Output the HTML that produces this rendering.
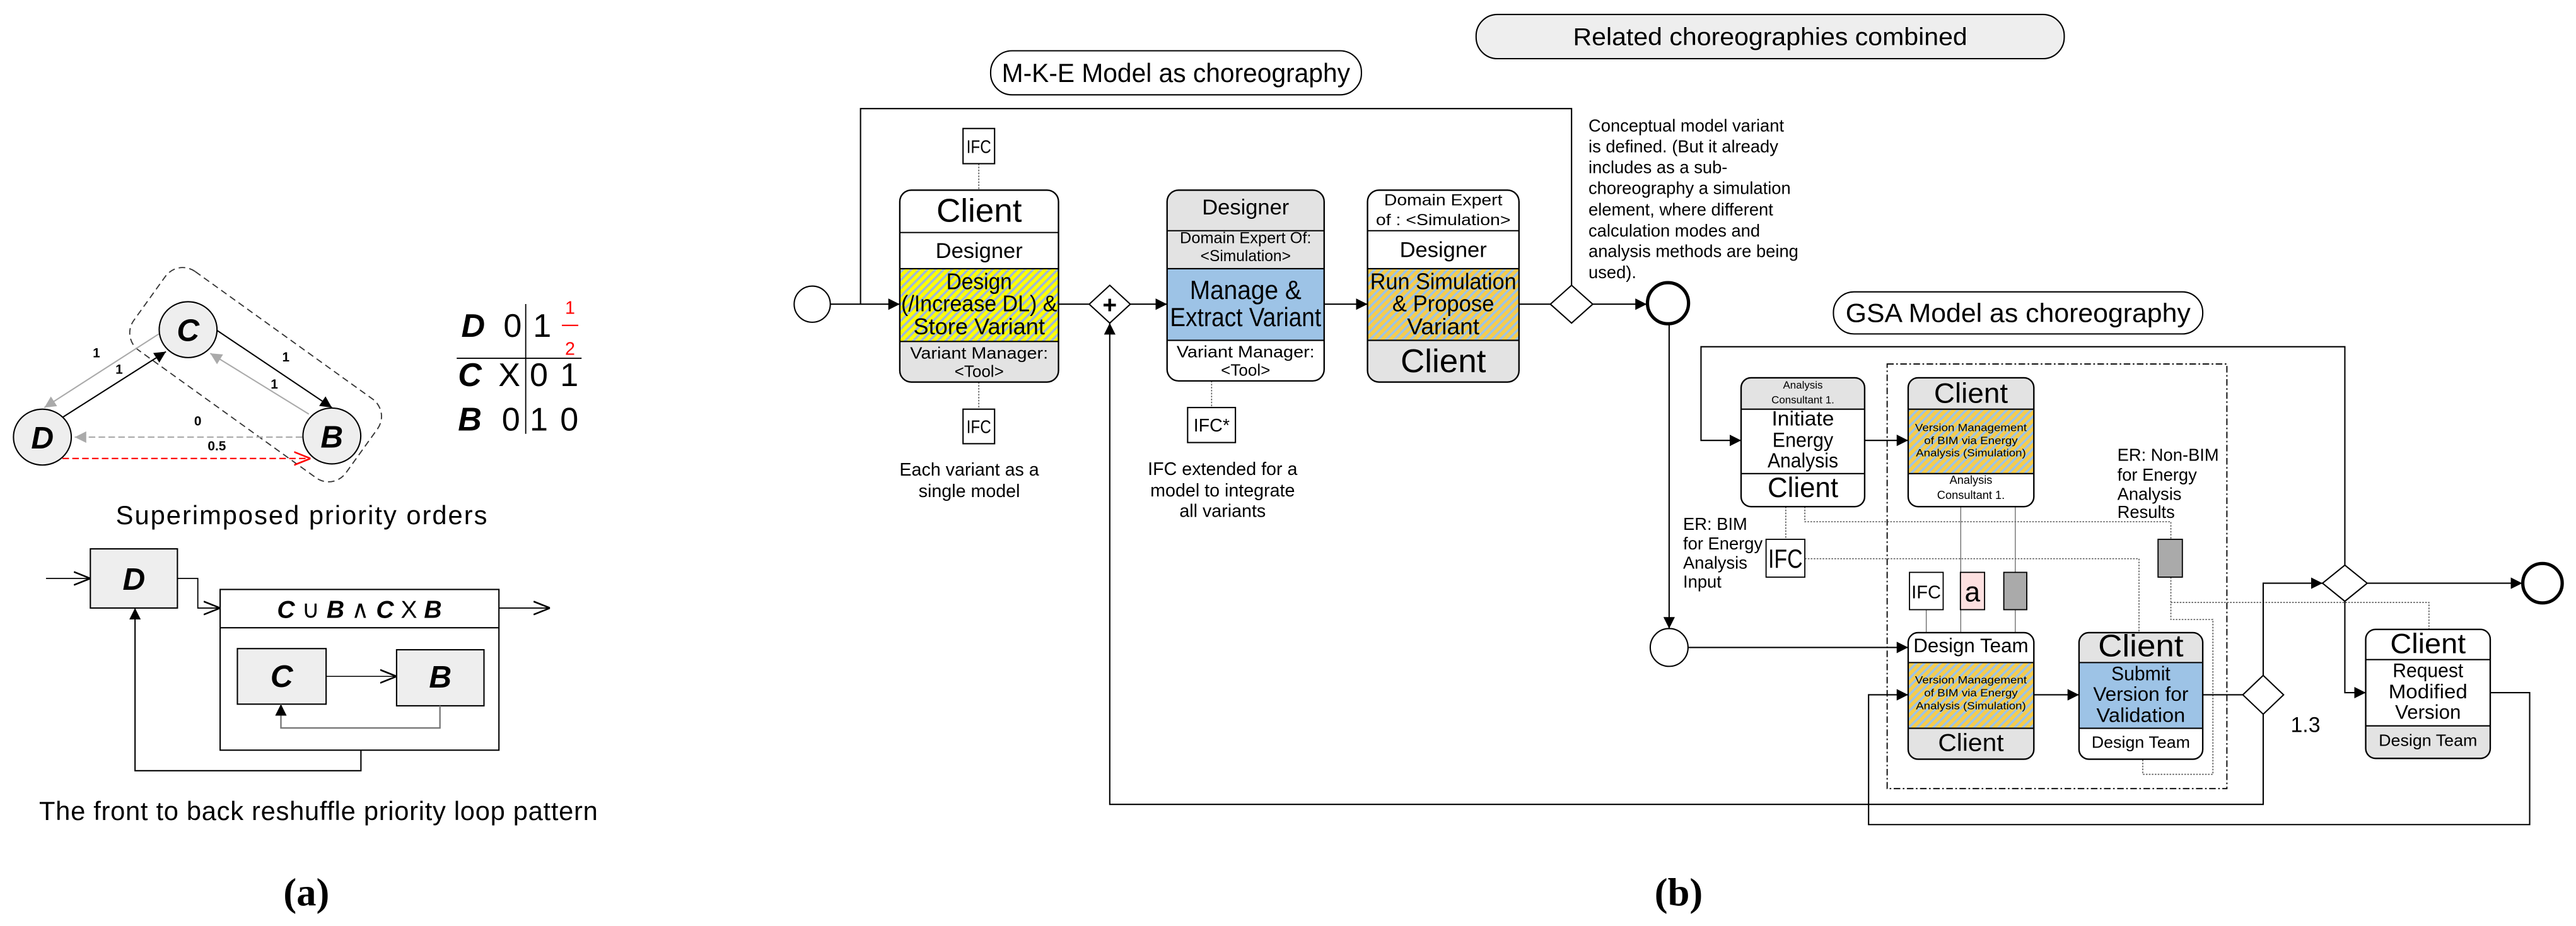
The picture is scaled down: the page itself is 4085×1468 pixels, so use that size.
<!DOCTYPE html>
<html><head><meta charset="utf-8"><style>
html,body{margin:0;padding:0;background:#fff;}
svg{display:block;}
text{font-family:"Liberation Sans Narrow","Liberation Sans",sans-serif;fill:#000;}
.s{font-family:"Liberation Sans",sans-serif;}
.bi{font-family:"Liberation Sans",sans-serif;font-weight:bold;font-style:italic;}
.ln{stroke:#000;stroke-width:0.8;fill:none;}
.dt{stroke:#555;stroke-width:0.6;fill:none;stroke-dasharray:1,0.8;}
</style></head><body>
<svg width="4085" height="1468" viewBox="0 0 1568 563.5" preserveAspectRatio="none" xmlns="http://www.w3.org/2000/svg">
<defs>
<marker id="af" viewBox="0 0 10 10" refX="10" refY="5" markerWidth="7" markerHeight="7" markerUnits="userSpaceOnUse" orient="auto"><path d="M0,0L10,5L0,10z" fill="#000"/></marker>
<marker id="ag" viewBox="0 0 10 10" refX="10" refY="5" markerWidth="7" markerHeight="7" markerUnits="userSpaceOnUse" orient="auto"><path d="M0,0L10,5L0,10z" fill="#aaa"/></marker>
<marker id="ao" viewBox="0 0 10 10" refX="10" refY="5" markerWidth="10" markerHeight="10" markerUnits="userSpaceOnUse" orient="auto"><path d="M0,1L10,5L0,9" fill="none" stroke="#000" stroke-width="1"/></marker>
<marker id="ar" viewBox="0 0 10 10" refX="10" refY="5" markerWidth="10" markerHeight="10" markerUnits="userSpaceOnUse" orient="auto"><path d="M0,1L10,5L0,9" fill="none" stroke="#f00" stroke-width="1"/></marker>
<pattern id="h1" patternUnits="userSpaceOnUse" width="3.5" height="3.5" patternTransform="rotate(45)"><rect width="3.5" height="3.5" fill="#ffff00"/><rect width="1.4" height="3.5" fill="#9fb8d8"/></pattern>
<pattern id="h2" patternUnits="userSpaceOnUse" width="3.5" height="3.5" patternTransform="rotate(45)"><rect width="3.5" height="3.5" fill="#f7cc4a"/><rect width="1.4" height="3.5" fill="#9dc3e6"/></pattern>
<clipPath id="c1"><rect x="547.7" y="115.7" width="96.6" height="116.8" rx="7"/></clipPath>
<clipPath id="c2"><rect x="710.4" y="115.7" width="95.6" height="116.1" rx="7"/></clipPath>
<clipPath id="c3"><rect x="832.4" y="115.7" width="92.2" height="116.8" rx="7"/></clipPath>
<clipPath id="cA"><rect x="1059.8" y="229.9" width="75.2" height="78.4" rx="6"/></clipPath>
<clipPath id="cB"><rect x="1161.5" y="229.9" width="76.5" height="78.4" rx="6"/></clipPath>
<clipPath id="cC"><rect x="1161.5" y="385" width="76.5" height="77" rx="6"/></clipPath>
<clipPath id="cD"><rect x="1265.5" y="385" width="75.3" height="77" rx="6"/></clipPath>
<clipPath id="cR"><rect x="1440" y="383" width="75.8" height="78.5" rx="6"/></clipPath>
</defs>

<!-- ============ PART (a) ============ -->
<g transform="translate(155.6,228) rotate(35.7)">
<rect x="-79.5" y="-29.5" width="159" height="59" rx="13" fill="none" stroke="#333" stroke-width="0.7" stroke-dasharray="4,2.5"/>
</g>
<line x1="132" y1="201" x2="202" y2="248" stroke="#000" stroke-width="0.8" marker-end="url(#af)"/>
<line x1="188" y1="252" x2="128" y2="215" stroke="#aaa" stroke-width="0.8" marker-end="url(#ag)"/>
<line x1="97" y1="203" x2="27" y2="248" stroke="#aaa" stroke-width="0.8" marker-end="url(#ag)"/>
<line x1="38" y1="254" x2="101" y2="214" stroke="#000" stroke-width="0.8" marker-end="url(#af)"/>
<line x1="184" y1="266" x2="45.5" y2="266" stroke="#aaa" stroke-width="0.8" stroke-dasharray="4,2" marker-end="url(#ag)"/>
<line x1="38" y1="279" x2="189" y2="279" stroke="#f00" stroke-width="0.8" stroke-dasharray="4,2" marker-end="url(#ar)"/>
<ellipse cx="114.5" cy="200.6" rx="17.6" ry="17" fill="#eee" stroke="#000" stroke-width="0.8"/>
<ellipse cx="25.8" cy="266" rx="17.6" ry="17" fill="#eee" stroke="#000" stroke-width="0.8"/>
<ellipse cx="202" cy="265.3" rx="17.6" ry="17" fill="#eee" stroke="#000" stroke-width="0.8"/>
<text class="bi" x="114.5" y="207.5" font-size="19" text-anchor="middle">C</text>
<text class="bi" x="25.8" y="273" font-size="19" text-anchor="middle">D</text>
<text class="bi" x="202" y="272.3" font-size="19" text-anchor="middle">B</text>
<g font-size="8" font-weight="bold">
<text x="58.7" y="217.5" text-anchor="middle" class="s">1</text>
<text x="72.5" y="227.5" text-anchor="middle" class="s">1</text>
<text x="174" y="220" text-anchor="middle" class="s">1</text>
<text x="167" y="236.5" text-anchor="middle" class="s">1</text>
<text x="120.4" y="259" text-anchor="middle" class="s">0</text>
<text x="132" y="274" text-anchor="middle" class="s">0.5</text>
</g>
<!-- matrix -->
<line x1="320" y1="185" x2="320" y2="264" stroke="#000" stroke-width="0.7"/>
<line x1="278" y1="218" x2="354" y2="218" stroke="#000" stroke-width="0.7"/>
<g font-size="20">
<text class="bi" x="288" y="205" text-anchor="middle">D</text>
<text class="s" x="312" y="205" text-anchor="middle">0</text>
<text class="s" x="330" y="205" text-anchor="middle">1</text>
<text class="bi" x="286" y="235" text-anchor="middle">C</text>
<text class="s" x="310" y="235" text-anchor="middle">X</text>
<text class="s" x="328" y="235" text-anchor="middle">0</text>
<text class="s" x="346.5" y="235" text-anchor="middle">1</text>
<text class="bi" x="286" y="262" text-anchor="middle">B</text>
<text class="s" x="311" y="262" text-anchor="middle">0</text>
<text class="s" x="328" y="262" text-anchor="middle">1</text>
<text class="s" x="346.5" y="262" text-anchor="middle">0</text>
</g>
<text class="s" x="347" y="191" font-size="11" text-anchor="middle" style="fill:#f00">1</text>
<line x1="342" y1="198" x2="352" y2="198" stroke="#f00" stroke-width="0.8"/>
<text class="s" x="347" y="216" font-size="11" text-anchor="middle" style="fill:#f00">2</text>
<text class="s" x="183.5" y="319" font-size="16" text-anchor="middle" textLength="226">Superimposed priority orders</text>
<!-- loop pattern -->
<line x1="28" y1="352" x2="55" y2="352" stroke="#000" stroke-width="0.7" marker-end="url(#ao)"/>
<rect x="55" y="334" width="53" height="36" fill="#eee" stroke="#000" stroke-width="0.8"/>
<text class="bi" x="81.5" y="359" font-size="19" text-anchor="middle">D</text>
<polyline points="108,352 120.4,352 120.4,370 134,370" fill="none" stroke="#000" stroke-width="0.7" marker-end="url(#ao)"/>
<rect x="134" y="358.7" width="169.7" height="97.8" fill="#fff" stroke="#000" stroke-width="0.8"/>
<line x1="134" y1="382" x2="303.7" y2="382" stroke="#000" stroke-width="0.8"/>
<text x="218.8" y="376" font-size="15" text-anchor="middle" class="s"><tspan class="bi">C</tspan> ∪ <tspan class="bi">B</tspan> ∧ <tspan class="bi">C</tspan> X <tspan class="bi">B</tspan></text>
<line x1="303.7" y1="370" x2="334.8" y2="370" stroke="#000" stroke-width="0.7" marker-end="url(#ao)"/>
<rect x="144.5" y="394.7" width="54" height="33.8" fill="#eee" stroke="#000" stroke-width="0.8"/>
<rect x="241.4" y="395.4" width="53.2" height="34.1" fill="#eee" stroke="#000" stroke-width="0.8"/>
<text class="bi" x="171.5" y="418" font-size="19" text-anchor="middle">C</text>
<text class="bi" x="268" y="418.5" font-size="19" text-anchor="middle">B</text>
<line x1="198.5" y1="411.6" x2="241.4" y2="411.6" stroke="#000" stroke-width="0.6" marker-end="url(#ao)"/>
<polyline points="267.8,429.5 267.8,443 171,443 171,428.5" fill="none" stroke="#777" stroke-width="0.9" marker-end="url(#af)"/>
<polyline points="219.7,456.5 219.7,469 82.2,469 82.2,370" fill="none" stroke="#000" stroke-width="0.8" marker-end="url(#af)"/>
<text class="s" x="193.8" y="499" font-size="16" text-anchor="middle" textLength="340">The front to back reshuffle priority loop pattern</text>
<text x="186.5" y="551" font-size="24" font-weight="bold" text-anchor="middle" style="font-family:'Liberation Serif',serif">(a)</text>

<!-- ============ PART (b) ============ -->
<rect x="898.5" y="8.8" width="358" height="26.9" rx="13" fill="#eee" stroke="#000" stroke-width="0.8"/>
<text x="1077.5" y="27.5" font-size="15" text-anchor="middle" textLength="240" lengthAdjust="spacingAndGlyphs">Related choreographies combined</text>
<rect x="603" y="30.9" width="225.7" height="26.8" rx="13" fill="#fff" stroke="#000" stroke-width="0.8"/>
<text x="715.8" y="50" font-size="16" text-anchor="middle" textLength="212" lengthAdjust="spacingAndGlyphs">M-K-E Model as choreography</text>

<!-- MKE flow -->
<circle cx="494.4" cy="185.1" r="11" fill="#fff" stroke="#000" stroke-width="0.8"/>
<line x1="505.4" y1="185.1" x2="547.7" y2="185.1" class="ln" marker-end="url(#af)"/>
<polyline points="523.8,185.1 523.8,66.1 956.6,66.1 956.6,173.6" class="ln"/>
<line x1="644.3" y1="185.1" x2="663" y2="185.1" class="ln"/>
<polygon points="675.5,173.6 688,185.1 675.5,196.6 663,185.1" fill="#fff" stroke="#000" stroke-width="0.8"/>
<text x="675.5" y="190.5" font-size="15" text-anchor="middle" class="s" font-weight="bold">+</text>
<line x1="688" y1="185.1" x2="710.4" y2="185.1" class="ln" marker-end="url(#af)"/>
<line x1="806" y1="185.1" x2="832.4" y2="185.1" class="ln" marker-end="url(#af)"/>
<line x1="924.6" y1="185.1" x2="943.7" y2="185.1" class="ln"/>
<polygon points="956.6,173.6 969.5,185.1 956.6,196.6 943.7,185.1" fill="#fff" stroke="#000" stroke-width="0.8"/>
<line x1="969.5" y1="185.1" x2="1002.4" y2="185.1" class="ln" marker-end="url(#af)"/>
<circle cx="1015.3" cy="184.5" r="12.5" fill="#fff" stroke="#000" stroke-width="2"/>
<!-- IFC boxes -->
<line x1="595.8" y1="99.6" x2="595.8" y2="115.7" class="dt" stroke-dasharray="1.5,1"/>
<rect x="586.2" y="78.2" width="19.2" height="21.4" fill="#fff" stroke="#000" stroke-width="0.8"/>
<text x="595.8" y="93" font-size="11" text-anchor="middle" textLength="15" lengthAdjust="spacingAndGlyphs">IFC</text>
<line x1="595.8" y1="232.5" x2="595.8" y2="249" class="dt" stroke-dasharray="1.5,1"/>
<rect x="586.2" y="249" width="19.2" height="21" fill="#fff" stroke="#000" stroke-width="0.8"/>
<text x="595.8" y="263.5" font-size="11" text-anchor="middle" textLength="15" lengthAdjust="spacingAndGlyphs">IFC</text>
<line x1="737.5" y1="231.8" x2="737.5" y2="248" class="dt" stroke-dasharray="1.5,1"/>
<rect x="722.9" y="248" width="29.1" height="21.3" fill="#fff" stroke="#000" stroke-width="0.8"/>
<text x="737.5" y="262.5" font-size="11" text-anchor="middle">IFC*</text>
<g font-size="11" text-anchor="middle">
<text x="590" y="289.5">Each variant as a</text>
<text x="590" y="302.5">single model</text>
<text x="744.2" y="289">IFC extended for a</text>
<text x="744.2" y="302">model to integrate</text>
<text x="744.2" y="314.5">all variants</text>
</g>
<g font-size="10.5">
<text x="966.9" y="80">Conceptual model variant</text>
<text x="966.9" y="92.8">is defined. (But it already</text>
<text x="966.9" y="105.4">includes as a sub-</text>
<text x="966.9" y="118.1">choreography a simulation</text>
<text x="966.9" y="131.1">element, where different</text>
<text x="966.9" y="143.9">calculation modes and</text>
<text x="966.9" y="156.5">analysis methods are being</text>
<text x="966.9" y="169.3">used).</text>
</g>

<!-- Task1 -->
<g clip-path="url(#c1)">
<rect x="547.7" y="115.7" width="96.6" height="25.8" fill="#fff"/>
<rect x="547.7" y="141.5" width="96.6" height="22" fill="#fff"/>
<rect x="547.7" y="163.5" width="96.6" height="44.3" fill="url(#h1)"/>
<rect x="547.7" y="207.8" width="96.6" height="24.7" fill="#e3e3e3"/>
</g>
<g class="ln"><line x1="547.7" y1="141.5" x2="644.3" y2="141.5"/><line x1="547.7" y1="163.5" x2="644.3" y2="163.5"/><line x1="547.7" y1="207.8" x2="644.3" y2="207.8"/></g>
<rect x="547.7" y="115.7" width="96.6" height="116.8" rx="7" fill="none" stroke="#000" stroke-width="0.9"/>
<g text-anchor="middle">
<text x="596" y="135" font-size="20" textLength="52" lengthAdjust="spacingAndGlyphs">Client</text>
<text x="596" y="157" font-size="13" textLength="53" lengthAdjust="spacingAndGlyphs">Designer</text>
<text x="596" y="176" font-size="14" textLength="40" lengthAdjust="spacingAndGlyphs">Design</text>
<text x="596" y="189.5" font-size="14" textLength="95" lengthAdjust="spacingAndGlyphs">(/Increase DL) &amp;</text>
<text x="596" y="203.5" font-size="14" textLength="80" lengthAdjust="spacingAndGlyphs">Store Variant</text>
<text x="596" y="218.3" font-size="10" textLength="84" lengthAdjust="spacingAndGlyphs">Variant Manager:</text>
<text x="596" y="229.3" font-size="10">&lt;Tool&gt;</text>
</g>
<!-- Task2 -->
<g clip-path="url(#c2)">
<rect x="710.4" y="115.7" width="95.6" height="47.8" fill="#e3e3e3"/>
<rect x="710.4" y="163.5" width="95.6" height="43.6" fill="#9dc3e6"/>
<rect x="710.4" y="207.1" width="95.6" height="24.7" fill="#fff"/>
</g>
<g class="ln"><line x1="710.4" y1="140.4" x2="806" y2="140.4"/><line x1="710.4" y1="163.5" x2="806" y2="163.5"/><line x1="710.4" y1="207.1" x2="806" y2="207.1"/></g>
<rect x="710.4" y="115.7" width="95.6" height="116.1" rx="7" fill="none" stroke="#000" stroke-width="0.9"/>
<g text-anchor="middle">
<text x="758.2" y="130.5" font-size="13" textLength="53" lengthAdjust="spacingAndGlyphs">Designer</text>
<text x="758.2" y="148" font-size="9.5" textLength="80" lengthAdjust="spacingAndGlyphs">Domain Expert Of:</text>
<text x="758.2" y="159" font-size="9.5" textLength="55" lengthAdjust="spacingAndGlyphs">&lt;Simulation&gt;</text>
<text x="758.2" y="182" font-size="16" textLength="68" lengthAdjust="spacingAndGlyphs">Manage &amp;</text>
<text x="758.2" y="198.5" font-size="16" textLength="92" lengthAdjust="spacingAndGlyphs">Extract Variant</text>
<text x="758.2" y="217.5" font-size="10" textLength="84" lengthAdjust="spacingAndGlyphs">Variant Manager:</text>
<text x="758.2" y="228.5" font-size="10">&lt;Tool&gt;</text>
</g>
<!-- Task3 -->
<g clip-path="url(#c3)">
<rect x="832.4" y="115.7" width="92.2" height="47.8" fill="#fff"/>
<rect x="832.4" y="163.5" width="92.2" height="43.6" fill="url(#h2)"/>
<rect x="832.4" y="207.1" width="92.2" height="25.4" fill="#e3e3e3"/>
</g>
<g class="ln"><line x1="832.4" y1="140.4" x2="924.6" y2="140.4"/><line x1="832.4" y1="163.5" x2="924.6" y2="163.5"/><line x1="832.4" y1="207.1" x2="924.6" y2="207.1"/></g>
<rect x="832.4" y="115.7" width="92.2" height="116.8" rx="7" fill="none" stroke="#000" stroke-width="0.9"/>
<g text-anchor="middle">
<text x="878.5" y="125" font-size="9.5" textLength="72" lengthAdjust="spacingAndGlyphs">Domain Expert</text>
<text x="878.5" y="137" font-size="9.5" textLength="82" lengthAdjust="spacingAndGlyphs">of : &lt;Simulation&gt;</text>
<text x="878.5" y="156.5" font-size="13" textLength="53" lengthAdjust="spacingAndGlyphs">Designer</text>
<text x="878.5" y="176" font-size="14" textLength="89" lengthAdjust="spacingAndGlyphs">Run Simulation</text>
<text x="878.5" y="189.5" font-size="14" textLength="62" lengthAdjust="spacingAndGlyphs">&amp; Propose</text>
<text x="878.5" y="203.5" font-size="14" textLength="44" lengthAdjust="spacingAndGlyphs">Variant</text>
<text x="878.5" y="226.5" font-size="20" textLength="52" lengthAdjust="spacingAndGlyphs">Client</text>
</g>

<!-- GSA -->
<rect x="1116" y="177.6" width="224.8" height="25.6" rx="12.5" fill="#fff" stroke="#000" stroke-width="0.8"/>
<text x="1228.4" y="196" font-size="16" text-anchor="middle" textLength="210" lengthAdjust="spacingAndGlyphs">GSA Model as choreography</text>
<line x1="1016" y1="197" x2="1016" y2="382.5" class="ln" marker-end="url(#af)"/>
<circle cx="1016" cy="394" r="11.5" fill="#fff" stroke="#000" stroke-width="0.8"/>
<line x1="1027.5" y1="394" x2="1161.5" y2="394" class="ln" marker-end="url(#af)"/>
<polyline points="1427.3,343.9 1427.3,211 1035.4,211 1035.4,268 1059.8,268" class="ln" marker-end="url(#af)"/>
<line x1="1135" y1="268" x2="1161.5" y2="268" class="ln" marker-end="url(#af)"/>
<rect x="1148.7" y="221.5" width="206.8" height="258.4" fill="none" stroke="#000" stroke-width="0.7" stroke-dasharray="4,1.5,1,1.5"/>
<!-- dotted associations -->
<polyline points="1098.6,308.3 1098.6,317.5 1321.4,317.5 1321.4,328.2" class="dt"/>
<polyline points="1321.4,351.2 1321.4,377 1347,377 1347,471.2 1304.3,471.2 1304.3,462" class="dt"/>
<polyline points="1321.4,366.6 1478.5,366.6 1478.5,383" class="dt"/>
<line x1="1087" y1="308.3" x2="1087" y2="328.2" class="dt"/>
<polyline points="1098.6,340 1302,340 1302,385" class="dt"/>
<rect x="1313.6" y="328.2" width="14.8" height="23" fill="#aaa" stroke="#000" stroke-width="0.7"/>
<rect x="1075" y="328.2" width="23.6" height="23" fill="#fff" stroke="#000" stroke-width="0.7"/>
<text x="1086.8" y="345.5" font-size="16" text-anchor="middle" textLength="21" lengthAdjust="spacingAndGlyphs">IFC</text>
<g font-size="10.5">
<text x="1288.8" y="280.5">ER: Non-BIM</text>
<text x="1288.8" y="292.5">for Energy</text>
<text x="1288.8" y="304.2">Analysis</text>
<text x="1288.8" y="315.2">Results</text>
<text x="1024.5" y="322.5">ER: BIM</text>
<text x="1024.5" y="334.3">for Energy</text>
<text x="1024.5" y="346">Analysis</text>
<text x="1024.5" y="357.5">Input</text>
</g>
<!-- small boxes and their lines -->
<g stroke="#666" stroke-width="0.5">
<line x1="1193.5" y1="308.3" x2="1193.5" y2="385"/>
<line x1="1226.7" y1="308.3" x2="1226.7" y2="385"/>
<line x1="1172.5" y1="371" x2="1172.5" y2="385"/>
</g>
<rect x="1162.3" y="348.3" width="20.5" height="22.7" fill="#fff" stroke="#000" stroke-width="0.7"/>
<text x="1172.5" y="364" font-size="11" text-anchor="middle" textLength="18" lengthAdjust="spacingAndGlyphs">IFC</text>
<rect x="1193.3" y="348.3" width="14.7" height="22.7" fill="#fde0e0" stroke="#000" stroke-width="0.7"/>
<text x="1200.6" y="366" font-size="17" text-anchor="middle">a</text>
<rect x="1219.7" y="348.3" width="14" height="22.7" fill="#aaa" stroke="#000" stroke-width="0.7"/>

<!-- Task A -->
<g clip-path="url(#cA)">
<rect x="1059.8" y="229.9" width="75.2" height="19.1" fill="#e3e3e3"/>
<rect x="1059.8" y="249" width="75.2" height="59.3" fill="#fff"/>
</g>
<g class="ln"><line x1="1059.8" y1="249" x2="1135" y2="249"/><line x1="1059.8" y1="288.2" x2="1135" y2="288.2"/></g>
<rect x="1059.8" y="229.9" width="75.2" height="78.4" rx="6" fill="none" stroke="#000" stroke-width="0.9"/>
<g text-anchor="middle">
<text x="1097.4" y="236.5" font-size="6.5">Analysis</text>
<text x="1097.4" y="245.5" font-size="6.5">Consultant 1.</text>
<text x="1097.4" y="259" font-size="12.5" textLength="38" lengthAdjust="spacingAndGlyphs">Initiate</text>
<text x="1097.4" y="272" font-size="12.5" textLength="37" lengthAdjust="spacingAndGlyphs">Energy</text>
<text x="1097.4" y="284.5" font-size="12.5" textLength="43" lengthAdjust="spacingAndGlyphs">Analysis</text>
<text x="1097.4" y="302.5" font-size="17" textLength="43" lengthAdjust="spacingAndGlyphs">Client</text>
</g>
<!-- Task B -->
<g clip-path="url(#cB)">
<rect x="1161.5" y="229.9" width="76.5" height="19.1" fill="#e3e3e3"/>
<rect x="1161.5" y="249" width="76.5" height="39.2" fill="url(#h2)"/>
<rect x="1161.5" y="288.2" width="76.5" height="20.1" fill="#fff"/>
</g>
<g class="ln"><line x1="1161.5" y1="249" x2="1238" y2="249"/><line x1="1161.5" y1="288.2" x2="1238" y2="288.2"/></g>
<rect x="1161.5" y="229.9" width="76.5" height="78.4" rx="6" fill="none" stroke="#000" stroke-width="0.9"/>
<g text-anchor="middle">
<text x="1199.7" y="245" font-size="17" textLength="45" lengthAdjust="spacingAndGlyphs">Client</text>
<text x="1199.7" y="262.3" font-size="6.5" textLength="68" lengthAdjust="spacingAndGlyphs">Version Management</text>
<text x="1199.7" y="270.3" font-size="6.5" textLength="57" lengthAdjust="spacingAndGlyphs">of BIM via Energy</text>
<text x="1199.7" y="277.7" font-size="6.5" textLength="67" lengthAdjust="spacingAndGlyphs">Analysis (Simulation)</text>
<text x="1199.7" y="294.5" font-size="7">Analysis</text>
<text x="1199.7" y="303.6" font-size="7">Consultant 1.</text>
</g>
<!-- Task C -->
<g clip-path="url(#cC)">
<rect x="1161.5" y="385" width="76.5" height="18.2" fill="#fff"/>
<rect x="1161.5" y="403.2" width="76.5" height="40" fill="url(#h2)"/>
<rect x="1161.5" y="443.2" width="76.5" height="18.8" fill="#e3e3e3"/>
</g>
<g class="ln"><line x1="1161.5" y1="403.2" x2="1238" y2="403.2"/><line x1="1161.5" y1="443.2" x2="1238" y2="443.2"/></g>
<rect x="1161.5" y="385" width="76.5" height="77" rx="6" fill="none" stroke="#000" stroke-width="0.9"/>
<g text-anchor="middle">
<text x="1199.7" y="397" font-size="12" textLength="70" lengthAdjust="spacingAndGlyphs">Design Team</text>
<text x="1199.7" y="416" font-size="6.5" textLength="68" lengthAdjust="spacingAndGlyphs">Version Management</text>
<text x="1199.7" y="423.8" font-size="6.5" textLength="57" lengthAdjust="spacingAndGlyphs">of BIM via Energy</text>
<text x="1199.7" y="431.7" font-size="6.5" textLength="67" lengthAdjust="spacingAndGlyphs">Analysis (Simulation)</text>
<text x="1199.7" y="457" font-size="15" textLength="40" lengthAdjust="spacingAndGlyphs">Client</text>
</g>
<line x1="1238" y1="422.8" x2="1265.5" y2="422.8" class="ln" marker-end="url(#af)"/>
<!-- Task D -->
<g clip-path="url(#cD)">
<rect x="1265.5" y="385" width="75.3" height="18.2" fill="#e3e3e3"/>
<rect x="1265.5" y="403.2" width="75.3" height="40" fill="#9dc3e6"/>
<rect x="1265.5" y="443.2" width="75.3" height="18.8" fill="#fff"/>
</g>
<g class="ln"><line x1="1265.5" y1="403.2" x2="1340.8" y2="403.2"/><line x1="1265.5" y1="443.2" x2="1340.8" y2="443.2"/></g>
<rect x="1265.5" y="385" width="75.3" height="77" rx="6" fill="none" stroke="#000" stroke-width="0.9"/>
<g text-anchor="middle">
<text x="1303.1" y="399.5" font-size="19" textLength="52" lengthAdjust="spacingAndGlyphs">Client</text>
<text x="1303.1" y="414" font-size="12" textLength="36" lengthAdjust="spacingAndGlyphs">Submit</text>
<text x="1303.1" y="426.5" font-size="12" textLength="58" lengthAdjust="spacingAndGlyphs">Version for</text>
<text x="1303.1" y="439.3" font-size="12" textLength="54" lengthAdjust="spacingAndGlyphs">Validation</text>
<text x="1303.1" y="455" font-size="10" textLength="60" lengthAdjust="spacingAndGlyphs">Design Team</text>
</g>
<!-- gateways right -->
<line x1="1340.8" y1="422.8" x2="1365.2" y2="422.8" class="ln"/>
<polygon points="1377.6,411 1390,422.8 1377.6,434.6 1365.2,422.8" fill="#fff" stroke="#000" stroke-width="0.8"/>
<text x="1394.3" y="445.5" font-size="13">1.3</text>
<polyline points="1377.6,411 1377.6,354.9 1413.7,354.9" class="ln" marker-end="url(#af)"/>
<polygon points="1427.3,343.9 1440.9,354.9 1427.3,365.9 1413.7,354.9" fill="#fff" stroke="#000" stroke-width="0.8"/>
<line x1="1440.9" y1="354.9" x2="1535.3" y2="354.9" class="ln" marker-end="url(#af)"/>
<circle cx="1547.6" cy="354.9" r="12" fill="#fff" stroke="#000" stroke-width="2"/>
<polyline points="1427.3,365.9 1427.3,421.5 1440,421.5" class="ln" marker-end="url(#af)"/>
<polyline points="1377.6,434.6 1377.6,489.5 675.5,489.5 675.5,196.6" class="ln" marker-end="url(#af)"/>
<polyline points="1515.8,421.5 1539.8,421.5 1539.8,501.8 1137.4,501.8 1137.4,422.8 1161.5,422.8" class="ln" marker-end="url(#af)"/>
<!-- Request task -->
<g clip-path="url(#cR)">
<rect x="1440" y="383" width="75.8" height="58.7" fill="#fff"/>
<rect x="1440" y="441.7" width="75.8" height="19.8" fill="#e3e3e3"/>
</g>
<g class="ln"><line x1="1440" y1="401.4" x2="1515.8" y2="401.4"/><line x1="1440" y1="441.7" x2="1515.8" y2="441.7"/></g>
<rect x="1440" y="383" width="75.8" height="78.5" rx="6" fill="none" stroke="#000" stroke-width="0.9"/>
<g text-anchor="middle">
<text x="1477.9" y="397.5" font-size="17" textLength="46" lengthAdjust="spacingAndGlyphs">Client</text>
<text x="1477.9" y="412" font-size="12" textLength="43" lengthAdjust="spacingAndGlyphs">Request</text>
<text x="1477.9" y="425" font-size="12" textLength="48" lengthAdjust="spacingAndGlyphs">Modified</text>
<text x="1477.9" y="437.5" font-size="12" textLength="40" lengthAdjust="spacingAndGlyphs">Version</text>
<text x="1477.9" y="454" font-size="10" textLength="60" lengthAdjust="spacingAndGlyphs">Design Team</text>
</g>
<text x="1021.8" y="551" font-size="24" font-weight="bold" text-anchor="middle" style="font-family:'Liberation Serif',serif">(b)</text>
</svg>
</body></html>
